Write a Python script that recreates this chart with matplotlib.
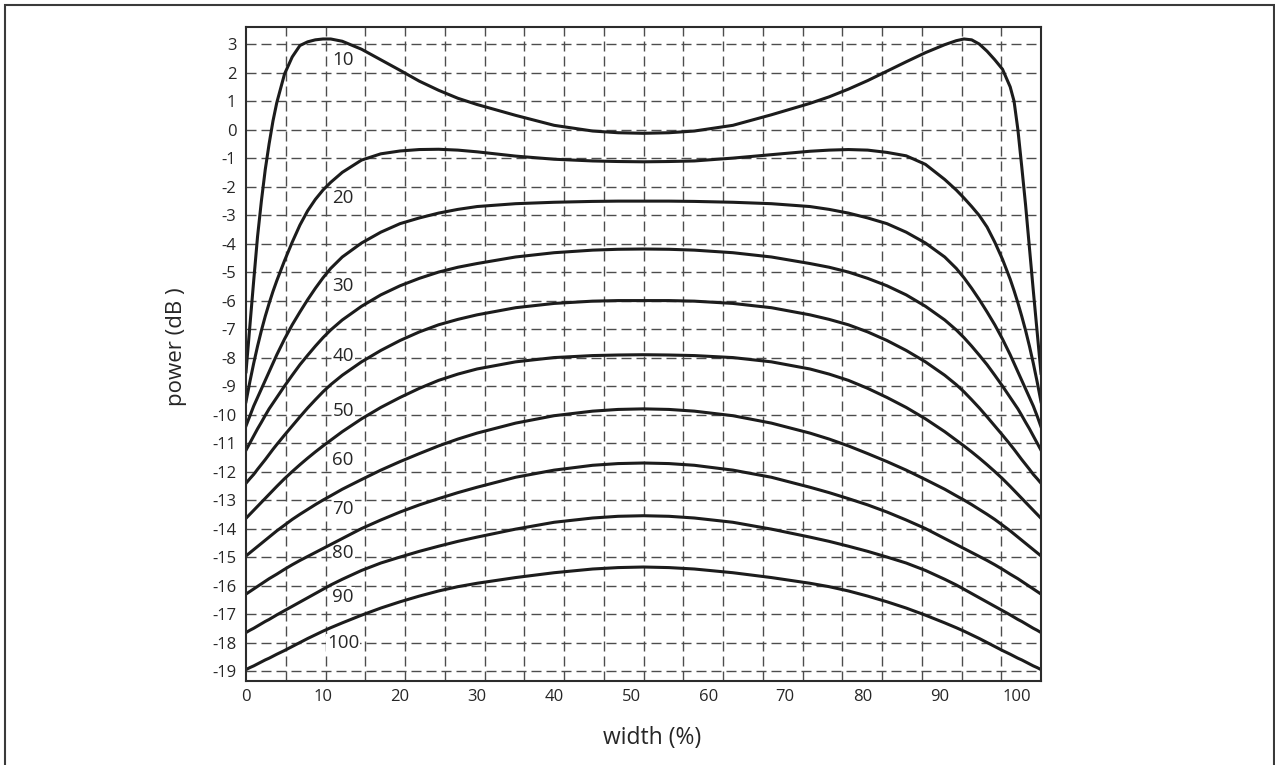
import numpy as np
import matplotlib
matplotlib.use("Agg")
import matplotlib.pyplot as plt
from matplotlib.patches import Rectangle

plt.rcParams['font.family'] = ['Open Sans', 'DejaVu Sans']
plt.rcParams['axes.unicode_minus'] = False

width_pct = [0, 0.5, 1, 1.5, 2, 2.5, 3, 3.5, 4, 5, 6, 7, 8, 9, 10, 11, 12.5, 15, 17.5, 20,
             22.5, 25, 27.5, 30, 35, 40, 45,
             48.3, 51.6, 54.9,
             58.2, 63.2, 68.2, 73.2, 75.7, 78.2, 80.7, 83.2, 85.7, 88.2, 90.7, 92.2, 93.2,
             94.2, 95.2, 96.2, 97.2, 98.2, 99.2, 99.7, 100.2, 100.7, 101.2, 101.7, 102.2,
             102.7, 103.2]

curve_names = ['10', '20', '30', '40', '50', '60', '70', '80', '90', '100']

power_10 = [-8.5, -6.9, -5.3, -3.75, -2.5, -1.4, -0.5, 0.3, 0.95, 1.95, 2.55, 2.95, 3.08, 3.15,
            3.18, 3.18, 3.1, 2.82, 2.45, 2.08, 1.7, 1.38, 1.1, 0.88, 0.5, 0.15, -0.05,
            -0.11, -0.13, -0.11,
            -0.05, 0.15, 0.52, 0.92, 1.15, 1.42, 1.72, 2.05, 2.38, 2.7, 2.98, 3.12, 3.18,
            3.15, 3.0, 2.75, 2.45, 2.12, 1.5, 1.0, 0.0, -1.3, -2.65, -4.15, -5.65, -7.1, -8.55]
power_20 = [-9.55, -8.85, -8.2, -7.6, -7.05, -6.55, -6.1, -5.68, -5.3, -4.6, -3.95, -3.35,
            -2.85, -2.45, -2.12, -1.85, -1.5, -1.07, -0.85, -0.75, -0.7, -0.69, -0.72, -0.78,
            -0.93, -1.04, -1.1,
            -1.12, -1.13, -1.12,
            -1.1, -1.0, -0.88, -0.76, -0.72, -0.7, -0.72, -0.8, -0.92, -1.22, -1.75, -2.12,
            -2.4, -2.7, -3.02, -3.42, -3.95, -4.55, -5.25, -5.65, -6.08, -6.55, -7.05, -7.6,
            -8.2, -8.85, -9.55]
power_30 = [-10.4, -10.05, -9.7, -9.4, -9.1, -8.8, -8.5, -8.2, -7.9, -7.35, -6.85, -6.4, -5.97,
            -5.57, -5.2, -4.87, -4.47, -3.98, -3.6, -3.3, -3.1, -2.93, -2.8, -2.7, -2.6, -2.55,
            -2.52,
            -2.51, -2.51, -2.51,
            -2.52, -2.55, -2.6, -2.7, -2.8, -2.93, -3.1, -3.3, -3.6, -3.98, -4.47, -4.87, -5.2,
            -5.57, -5.97, -6.4, -6.85, -7.35, -7.9, -8.2, -8.5, -8.8, -9.1, -9.4, -9.7, -10.05,
            -10.43]
power_40 = [-11.25, -11.0, -10.75, -10.5, -10.27, -10.03, -9.8, -9.6, -9.4, -9.0, -8.62, -8.25,
            -7.92, -7.6, -7.3, -7.03, -6.68, -6.2, -5.8, -5.48, -5.22, -5.0, -4.83, -4.7, -4.47,
            -4.32, -4.23,
            -4.2, -4.19, -4.2,
            -4.23, -4.32, -4.47, -4.7, -4.83, -5.0, -5.22, -5.48, -5.8, -6.2, -6.68, -7.03, -7.3,
            -7.6, -7.92, -8.25, -8.62, -9.0, -9.4, -9.6, -9.8, -10.03, -10.27, -10.5, -10.75,
            -11.0, -11.25]
power_50 = [-12.41, -12.25, -12.1, -11.92, -11.75, -11.58, -11.4, -11.22, -11.05, -10.72, -10.4,
            -10.08, -9.77, -9.48, -9.2, -8.95, -8.62, -8.15, -7.75, -7.4, -7.1, -6.85, -6.66,
            -6.5, -6.25, -6.1, -6.02,
            -6.0, -6.0, -6.0,
            -6.02, -6.1, -6.25, -6.5, -6.66, -6.85, -7.1, -7.4, -7.75, -8.15, -8.62, -8.95, -9.2,
            -9.48, -9.77, -10.08, -10.4, -10.72, -11.05, -11.22, -11.4, -11.58, -11.75, -11.92,
            -12.1, -12.25, -12.41]
power_60 = [-13.64, -13.5, -13.36, -13.22, -13.08, -12.94, -12.8, -12.66, -12.52, -12.25, -12.0,
            -11.76, -11.53, -11.31, -11.1, -10.9, -10.6, -10.15, -9.75, -9.4, -9.08, -8.8, -8.58,
            -8.4, -8.15, -8.0, -7.93,
            -7.91, -7.9, -7.91,
            -7.93, -8.0, -8.15, -8.4, -8.58, -8.8, -9.08, -9.4, -9.75, -10.15, -10.6, -10.9,
            -11.1, -11.31, -11.53, -11.76, -12.0, -12.25, -12.52, -12.66, -12.8, -12.94, -13.08,
            -13.22, -13.36, -13.5, -13.64]
power_70 = [-14.96, -14.85, -14.74, -14.63, -14.52, -14.41, -14.3, -14.19, -14.08, -13.88, -13.68,
            -13.5, -13.33, -13.16, -13.0, -12.85, -12.62, -12.28, -11.95, -11.65, -11.37, -11.1,
            -10.86, -10.65, -10.3, -10.04, -9.88,
            -9.82, -9.8, -9.82,
            -9.88, -10.04, -10.3, -10.65, -10.86, -11.1, -11.37, -11.65, -11.95, -12.28, -12.62,
            -12.85, -13.0, -13.16, -13.33, -13.5, -13.68, -13.88, -14.08, -14.19, -14.3, -14.41,
            -14.52, -14.63, -14.74, -14.85, -14.96]
power_80 = [-16.3, -16.21, -16.12, -16.03, -15.94, -15.85, -15.76, -15.68, -15.6, -15.43, -15.27,
            -15.12, -14.98, -14.84, -14.7, -14.56, -14.35, -14.0, -13.7, -13.42, -13.17, -12.95,
            -12.74, -12.55, -12.2, -11.95, -11.78,
            -11.72, -11.7, -11.72,
            -11.78, -11.95, -12.2, -12.55, -12.74, -12.95, -13.17, -13.42, -13.7, -14.0, -14.35,
            -14.56, -14.7, -14.84, -14.98, -15.12, -15.27, -15.43, -15.6, -15.68, -15.76, -15.85,
            -15.94, -16.03, -16.12, -16.21, -16.3]
power_90 = [-17.65, -17.57, -17.5, -17.42, -17.34, -17.26, -17.19, -17.11, -17.03, -16.88, -16.73,
            -16.58, -16.43, -16.28, -16.13, -15.98, -15.78, -15.47, -15.21, -15.0, -14.8, -14.62,
            -14.45, -14.3, -14.02, -13.78, -13.63,
            -13.57, -13.55, -13.57,
            -13.63, -13.78, -14.02, -14.3, -14.45, -14.62, -14.8, -15.0, -15.21, -15.47, -15.78,
            -15.98, -16.13, -16.28, -16.43, -16.58, -16.73, -16.88, -17.03, -17.11, -17.19,
            -17.26, -17.34, -17.42, -17.5, -17.57, -17.65]
power_100 = [-18.95, -18.88, -18.82, -18.75, -18.68, -18.61, -18.55, -18.48, -18.41, -18.28,
             -18.14, -18.0, -17.86, -17.73, -17.6, -17.48, -17.31, -17.04, -16.79, -16.57, -16.37,
             -16.19, -16.04, -15.92, -15.72, -15.55, -15.42,
             -15.37, -15.35, -15.37,
             -15.42, -15.55, -15.72, -15.92, -16.04, -16.19, -16.37, -16.57, -16.79, -17.04,
             -17.31, -17.48, -17.6, -17.73, -17.86, -18.0, -18.14, -18.28, -18.41, -18.48, -18.55,
             -18.61, -18.68, -18.75, -18.82, -18.88, -18.95]

curves = [power_10, power_20, power_30, power_40, power_50,
          power_60, power_70, power_80, power_90, power_100]

# where the curve names sit
label_x = 12.6
label_y = [2.43, -2.41, -5.5, -7.95, -9.87, -11.6, -13.3, -14.85, -16.4, -18.03]

x_ticks = [0, 10, 20, 30, 40, 50, 60, 70, 80, 90, 100]
y_ticks = list(range(3, -20, -1))

XMAX = 103.2
W, H = 1275, 765

fig = plt.figure(figsize=(W / 100, H / 100), dpi=100)
ax = fig.add_axes([246 / W, 1 - 681 / H, (1041 - 246) / W, (681 - 27.3) / H])

ink = '#1c1c1c'
for ys in curves:
    ax.plot(width_pct, ys, color=ink, lw=2.2, solid_joinstyle='round', zorder=3)

for name, ly in zip(curve_names, label_y):
    ax.text(label_x, ly, name, fontsize=13.5, color='#262626', ha='center', va='center',
            bbox=dict(facecolor='white', edgecolor='none', pad=0.5), zorder=2)

ax.set_xlim(0, XMAX)
ax.set_ylim(-19.35, 3.59)

ax.set_xticks(x_ticks)
ax.set_xticklabels([str(v) for v in x_ticks])
ax.set_yticks(y_ticks)
ax.set_yticklabels([str(v) for v in y_ticks])
ax.tick_params(which='both', length=0)
ax.tick_params(axis='x', pad=6, labelsize=12, labelcolor='#262626')
ax.tick_params(axis='y', pad=7, labelsize=12, labelcolor='#262626')

# dashed grid: 20 equal columns, one row per dB
dash = (0, (7.2, 3.6))
for gx in np.linspace(0, XMAX, 21)[1:-1]:
    ax.axvline(gx, color='#4d4d4d', lw=1.0, ls=dash, zorder=1)
for gy in y_ticks:
    ax.axhline(gy, color='#4d4d4d', lw=1.0, ls=dash, zorder=1)

for s in ax.spines.values():
    s.set_linewidth(1.5)
    s.set_color('#2b2b2b')
    s.set_zorder(4)

fig.text(651.7 / W, 1 - 738 / H, 'width (%)', fontsize=16.5, color='#262626',
         ha='center', va='center')
fig.text(176.7 / W, 1 - 346.7 / H, 'power (dB )', fontsize=16, color='#262626',
         ha='center', va='center', rotation=90)

# frame around the whole figure (open at the bottom)
fig.patches.append(Rectangle((5 / W, -0.05), (1274 - 5) / W, 1 - 5 / H + 0.05,
                             transform=fig.transFigure, fill=False,
                             edgecolor='#3a3a3a', lw=1.5))

fig.savefig('out.png', dpi=100)
